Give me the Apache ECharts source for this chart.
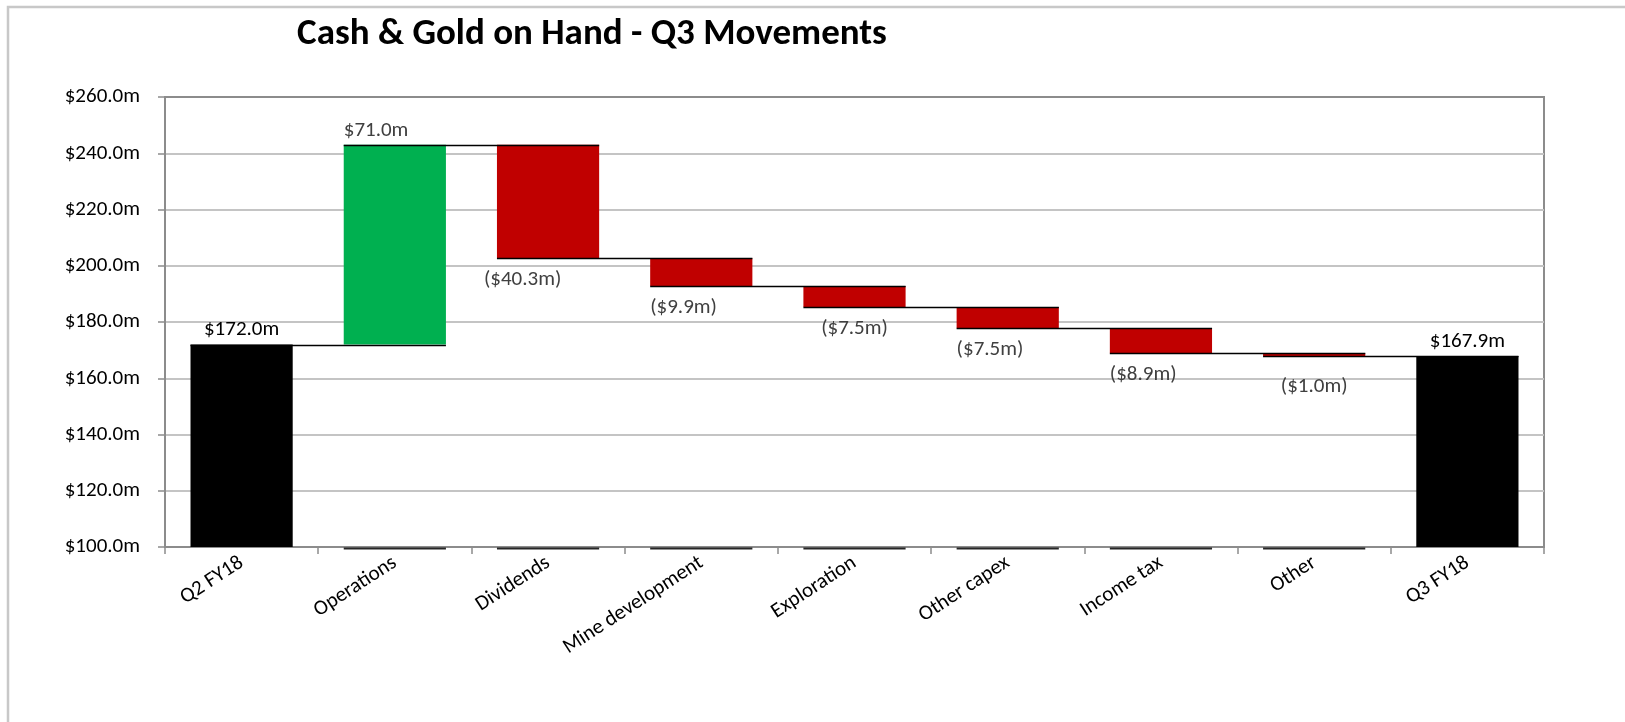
<!DOCTYPE html>
<html>
<head>
<meta charset="utf-8">
<title>Cash &amp; Gold on Hand - Q3 Movements</title>
<script src="https://cdn.jsdelivr.net/npm/echarts@6/dist/echarts.min.js"></script>
<style>
  html, body { margin: 0; padding: 0; background: #ffffff; }
  #chart { width: 1625px; height: 722px; }
</style>
</head>
<body>
<div id="chart"></div>
<script>
// Waterfall values ($m)
const categories = ['Q2 FY18', 'Operations', 'Dividends', 'Mine development', 'Exploration', 'Other capex', 'Income tax', 'Other', 'Q3 FY18'];
const openingBalance = 172.0;
const movements = [71.0, -40.3, -9.9, -7.5, -7.5, -8.9, -1.0];
const closingBalance = 167.9;
const yTicks = { min: 100, max: 260, step: 20 };

// How each value label sits relative to its bar (alignment and nudges in px)
const labelAlign = ['center', 'left', 'left', 'left', 'center', 'left', 'left', 'center', 'center'];
const labelNudgeX = [0, 0, -13, 0, 0, 0, 0, 0, 0];
const labelNudgeY = [0, 0, 0, 0, 0, 0, 0, 9, 0];

const FONT = "Carlito, 'Liberation Sans', sans-serif";
const COLORS = { total: '#000000', up: '#00B050', down: '#C00000' };

// Running totals -> floating segments
const kinds = [];
const starts = [];
const ends = [];
const amounts = [];
kinds.push('total'); starts.push(0); ends.push(openingBalance); amounts.push(openingBalance);
let running = openingBalance;
movements.forEach(function (m) {
  kinds.push(m >= 0 ? 'up' : 'down');
  starts.push(running);
  running = Math.round((running + m) * 10) / 10;
  ends.push(running);
  amounts.push(m);
});
kinds.push('total'); starts.push(0); ends.push(closingBalance); amounts.push(closingBalance);

const baseData = kinds.map(function (k, i) {
  return k === 'total' ? 0 : Math.min(starts[i], ends[i]);
});
const barData = kinds.map(function (k, i) {
  return {
    value: k === 'total' ? amounts[i] : Math.abs(amounts[i]),
    itemStyle: { color: COLORS[k] }
  };
});
const overlayData = kinds.map(function (k, i) {
  return [i, starts[i], ends[i], amounts[i]];
});

function fmt(v) {
  const s = '$' + Math.abs(v).toFixed(1) + 'm';
  return v < 0 ? '(' + s + ')' : s;
}

const BAR_RATIO = 0.667;

// Connectors, axis stubs under floating bars, and value labels
function renderOverlay(params, api) {
  const i = api.value(0);
  const start = api.value(1);
  const end = api.value(2);
  const amount = api.value(3);
  const kind = kinds[i];
  const band = api.size([1, 0])[0];
  const barW = band * BAR_RATIO;
  const cx = api.coord([i, end])[0];
  const left = cx - barW / 2;
  const children = [];

  if (i < kinds.length - 1) {
    const y = Math.round(api.coord([i, end])[1]) + 0.5;
    children.push({
      type: 'line',
      shape: { x1: left, y1: y, x2: cx + band + barW / 2, y2: y },
      style: { stroke: '#000000', lineWidth: 1.3 },
      z2: 10
    });
  }

  if (kind !== 'total') {
    const yb = api.coord([i, yTicks.min])[1] + 1.5;
    children.push({
      type: 'line',
      shape: { x1: left, y1: yb, x2: left + barW, y2: yb },
      style: { stroke: '#262626', lineWidth: 2 },
      z2: 9
    });
  }

  let ty, vAlign;
  if (kind === 'total' || kind === 'up') {
    ty = api.coord([i, Math.max(start, end)])[1] - 4;
    vAlign = 'bottom';
  } else {
    ty = api.coord([i, Math.min(start, end)])[1] + 11;
    vAlign = 'top';
  }
  const align = labelAlign[i];
  const tx = (align === 'center' ? cx : left) + labelNudgeX[i];
  children.push({
    type: 'text',
    style: {
      text: fmt(amount),
      x: tx,
      y: ty + labelNudgeY[i],
      align: align,
      verticalAlign: vAlign,
      fontFamily: FONT,
      fontSize: 21,
      fill: kind === 'total' ? '#000000' : '#404040'
    },
    z2: 11
  });

  return { type: 'group', children: children };
}

const chart = echarts.init(document.getElementById('chart'), null, { renderer: 'canvas' });

chart.setOption({
  backgroundColor: '#ffffff',
  animation: false,
  textStyle: { fontFamily: FONT },
  graphic: [
    {
      type: 'rect',
      silent: true,
      z: -10,
      shape: { x: 8, y: 7, width: 2000, height: 2000 },
      style: { fill: 'none', stroke: '#c8c8c8', lineWidth: 2.5 }
    },
    {
      type: 'text',
      silent: true,
      x: 592,
      y: 35,
      style: {
        text: 'Cash & Gold on Hand - Q3 Movements',
        align: 'center',
        verticalAlign: 'middle',
        fontFamily: FONT,
        fontWeight: 'bold',
        fontSize: 37,
        fill: '#000000'
      }
    }
  ],
  grid: {
    left: 165,
    right: 81,
    top: 97,
    bottom: 175,
    show: true,
    borderColor: '#8c8c8c',
    borderWidth: 2,
    backgroundColor: 'transparent'
  },
  xAxis: {
    type: 'category',
    data: categories,
    axisLine: { show: true, lineStyle: { color: '#8c8c8c', width: 2 } },
    axisTick: { show: true, alignWithLabel: false, length: 7, lineStyle: { color: '#8c8c8c', width: 1.5 } },
    axisLabel: {
      interval: 0,
      rotate: 33,
      margin: 14,
      fontFamily: FONT,
      fontSize: 21,
      color: '#000000'
    },
    splitLine: { show: false }
  },
  yAxis: {
    type: 'value',
    min: yTicks.min,
    max: yTicks.max,
    interval: yTicks.step,
    axisLine: { show: true, lineStyle: { color: '#8c8c8c', width: 2 } },
    axisTick: { show: true, length: 7, lineStyle: { color: '#8c8c8c', width: 1.5 } },
    axisLabel: {
      margin: 25,
      fontFamily: FONT,
      fontSize: 21,
      color: '#000000',
      formatter: function (v) { return '$' + v.toFixed(1) + 'm'; }
    },
    splitLine: { show: true, showMinLine: false, showMaxLine: false, lineStyle: { color: '#c4c4c4', width: 2 } }
  },
  series: [
    {
      name: 'base',
      type: 'bar',
      stack: 'wf',
      silent: true,
      barCategoryGap: '33.3%',
      itemStyle: { color: 'transparent' },
      data: baseData
    },
    {
      name: 'movement',
      type: 'bar',
      stack: 'wf',
      barCategoryGap: '33.3%',
      data: barData
    },
    {
      name: 'overlay',
      type: 'custom',
      renderItem: renderOverlay,
      encode: { x: 0, y: [1, 2] },
      data: overlayData,
      z: 5,
      clip: false
    }
  ]
});
</script>
</body>
</html>
